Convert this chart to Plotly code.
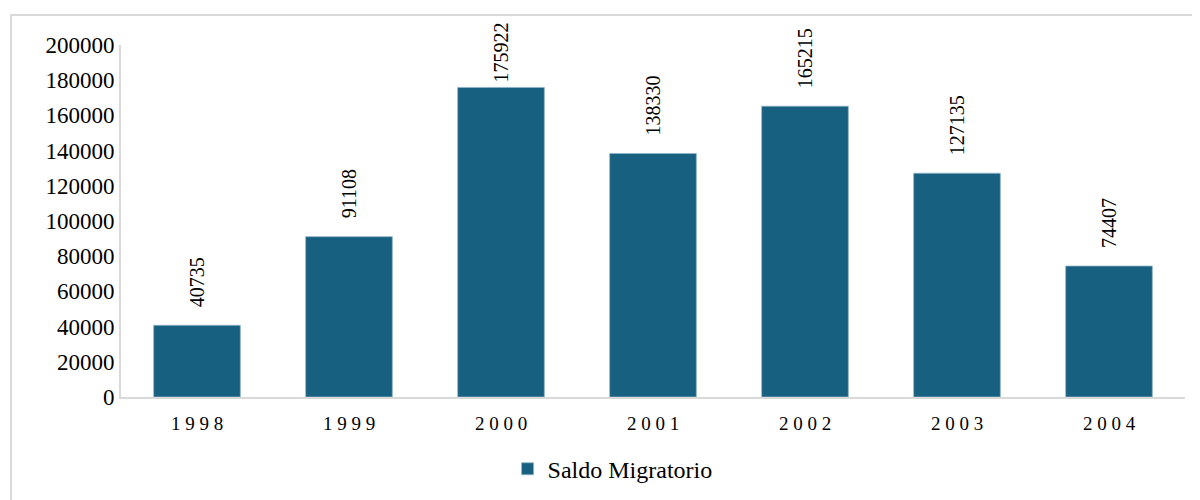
import plotly.graph_objects as go

years = ["1998", "1999", "2000", "2001", "2002", "2003", "2004"]
saldo = [40735, 91108, 175922, 138330, 165215, 127135, 74407]
series_name = "Saldo Migratorio"
y_ticks = [0, 20000, 40000, 60000, 80000, 100000, 120000, 140000, 160000, 180000, 200000]

W, H = 1200, 500
PAGE = 8  # default body margin of the html page
# target plot area on screen: x 121..1185, y 45..397
ML = 121 - PAGE
MT = 45 - PAGE
MR = W - (1185 - PAGE)
MB = H - (397 - PAGE)
plot_h = H - MT - MB
plot_w = W - ML - MR
ymax = 200000
bar_color = "#17607F"
font_family = "Liberation Serif"

def spaced(s):
    return " ".join(list(s))

fig = go.Figure()
fig.add_trace(go.Bar(
    x=years, y=saldo, name=series_name,
    marker=dict(color=bar_color, line=dict(color="#8FB3C6", width=0.8)),
    showlegend=True,
))

# data labels, rotated, above each bar (kept inside the chart box at top)
label_len = 62
gap = 16
top_limit = plot_h + (MT + PAGE) - 23  # px above plot bottom the label top may reach
for i, (yr, v) in enumerate(zip(years, saldo)):
    bar_top_px = v / ymax * plot_h
    shift = gap
    if bar_top_px + gap + label_len > top_limit:
        shift = max(3, top_limit - label_len - bar_top_px)
    fig.add_annotation(
        x=i, y=v, text=str(v), textangle=-90, showarrow=False,
        xanchor="center", yanchor="bottom", yshift=shift,
        font=dict(family=font_family, size=20, color="#000000"),
    )

# chart border
fig.add_shape(type="rect", xref="paper", yref="paper",
              x0=(11 - PAGE - ML) / plot_w, x1=1.05,
              y0=-0.5, y1=(H - MB - (15 - PAGE)) / plot_h,
              line=dict(color="#D9D9D9", width=2), layer="below")

fig.update_layout(
    width=W, height=H,
    margin=dict(l=ML, r=MR, t=MT, b=MB, autoexpand=False),
    paper_bgcolor="white", plot_bgcolor="white",
    bargap=0.43,
    font=dict(family=font_family, color="#000000"),
    legend=dict(orientation="h", x=0.462, xanchor="center", y=-0.205, yanchor="middle",
                font=dict(family=font_family, size=24, color="#000000")),
    xaxis=dict(
        type="category", range=[-0.5, len(years) - 0.5],
        tickmode="array", tickvals=years, ticktext=[spaced(y) for y in years],
        tickfont=dict(family=font_family, size=19, color="#000000"),
        ticklabelstandoff=8,
        showline=True, linecolor="#D9D9D9", linewidth=2,
        showgrid=False, ticks="", ticklen=0,
    ),
    yaxis=dict(
        range=[0, ymax], tickvals=y_ticks, ticktext=[str(t) for t in y_ticks],
        tickfont=dict(family=font_family, size=23, color="#000000"),
        showline=True, linecolor="#D9D9D9", linewidth=2,
        showgrid=False, zeroline=False, ticks="", ticklen=0,
    ),
)

fig.write_html("out.html")
